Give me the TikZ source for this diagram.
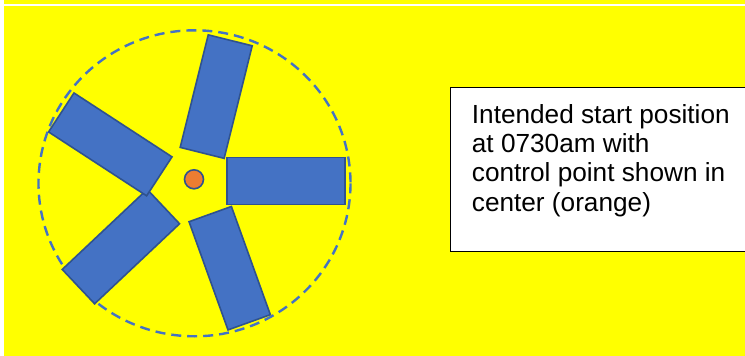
\documentclass[tikz,border=0pt]{standalone}
\usepackage{fontspec}
\setmainfont{Liberation Sans}
\definecolor{bg}{HTML}{FFFF00}
\definecolor{bladefill}{HTML}{4472C4}
\definecolor{bladeline}{HTML}{2F528F}
\definecolor{dotfill}{HTML}{ED7D31}
\tikzset{
  blade/.style={draw=bladeline, fill=bladefill, line width=1.6pt, rectangle, inner sep=0pt, outer sep=0pt},
  rim/.style={draw=bladefill, line width=2.4pt, dash pattern=on 10pt off 6pt},
  ctrl/.style={draw=bladeline, fill=dotfill, line width=1.6pt, circle, inner sep=0pt, minimum size=19pt},
  note/.style={draw=black, fill=white, line width=0.9pt},
}
\begin{document}
\begin{tikzpicture}[x=1pt,y=-1pt]
\useasboundingbox (0,0) rectangle (745,356);
\fill[white] (0,0) rectangle (745,356);
\fill[bg] (3.7,0) rectangle (745,3.6);
\fill[bg] (3.7,5.8) rectangle (745,356);
% rim
\draw[rim] (194.5,183.3) ellipse [x radius=156, y radius=153];
% blades
\node[blade, minimum width=118pt, minimum height=47pt] (bR) at (286,180.8) {};
\node[blade, minimum width=116pt, minimum height=45.3pt, rotate=76] (bT) at (216.2,96.6) {};
\node[blade, minimum width=115pt, minimum height=45pt, rotate=-70.2] (bB) at (229.7,268.2) {};
\node[blade, minimum width=116.7pt, minimum height=47.2pt, rotate=43.3] (bLL) at (120.9,246.6) {};
\node[blade, minimum width=117pt, minimum height=46.5pt, rotate=-33.1] (bUL) at (110.3,144.4) {};
% control point
\node[ctrl] (cp) at (194,179.3) {};
% note box
\draw[note] (450,87) rectangle (750,251.7);
\node[anchor=north west, inner sep=0pt, align=left, font=\fontsize{26.2pt}{29.4pt}\selectfont] (txt) at (471.7,104)
  {Intended start position\\at 0730am with\\control point shown in\\center (orange)};
\end{tikzpicture}
\end{document}
